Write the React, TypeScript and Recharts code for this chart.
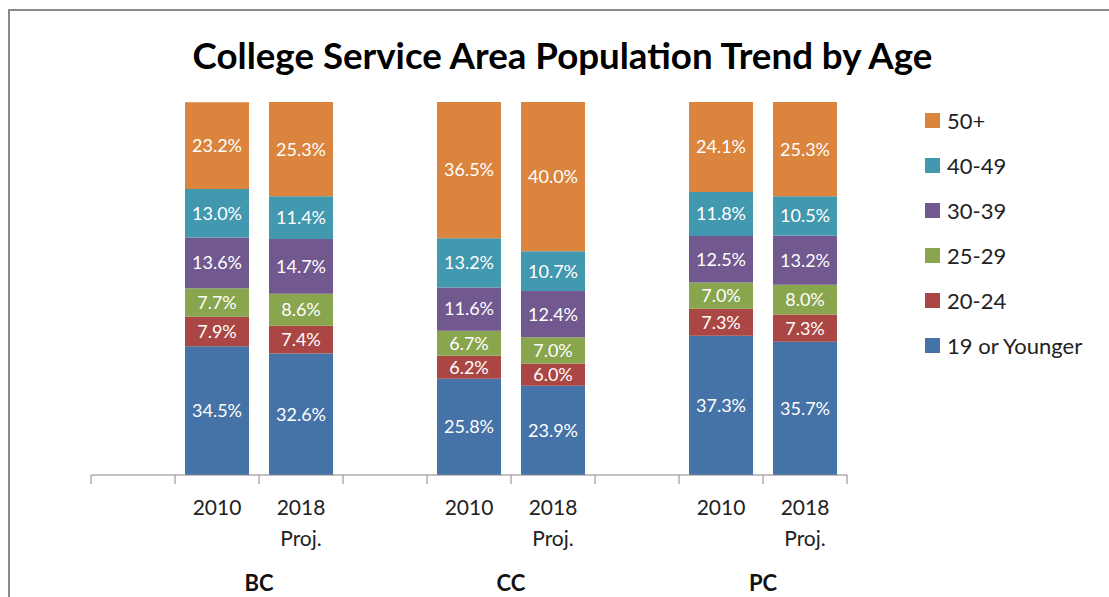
import { BarChart, Bar, XAxis, YAxis, Legend, LabelList } from 'recharts';

const groups = ['BC', 'CC', 'PC'];
const periods = ['2010', '2018 Proj.'];
const ageBands = ['19 or Younger', '20-24', '25-29', '30-39', '40-49', '50+'];
const bandColors = ['#4572A7', '#AA4643', '#89A54E', '#71588F', '#4198AF', '#DB843D'];

// order: BC 2010, BC 2018, CC 2010, CC 2018, PC 2010, PC 2018
const under19 = [34.5, 32.6, 25.8, 23.9, 37.3, 35.7];
const age20to24 = [7.9, 7.4, 6.2, 6.0, 7.3, 7.3];
const age25to29 = [7.7, 8.6, 6.7, 7.0, 7.0, 8.0];
const age30to39 = [13.6, 14.7, 11.6, 12.4, 12.5, 13.2];
const age40to49 = [13.0, 11.4, 13.2, 10.7, 11.8, 10.5];
const age50plus = [23.2, 25.3, 36.5, 40.0, 24.1, 25.3];

const seriesValues = [under19, age20to24, age25to29, age30to39, age40to49, age50plus];

// one empty slot before each college, like the original spacing
const data: Record<string, any>[] = [];
groups.forEach((g, gi) => {
  data.push({ key: `gap-${g}`, group: g, period: '' });
  periods.forEach((p, pi) => {
    const row: Record<string, any> = { key: `${g}|${p}`, group: g, period: p, last: pi === periods.length - 1 };
    seriesValues.forEach((vals, si) => {
      row[`s${si}`] = vals[gi * periods.length + pi];
    });
    data.push(row);
  });
});

const W = 1109;
const H = 597;
const margin = { top: 102, right: 262, bottom: 121, left: 91 };
const slotWidth = (W - margin.left - margin.right) / data.length;

const FONT = 'Lato, "Open Sans", sans-serif';
const GRAY = '#868686';

// category labels plus tick marks between the slots (Excel style)
const SlotTick = ({ x, y, index }: any) => {
  const row = data[index] || {};
  const half = slotWidth / 2;
  const lines: string[] = row.period ? String(row.period).split(' ') : [];
  return (
    <g>
      {index === 0 && <line x1={x - half} x2={x - half} y1={y} y2={y + 9} stroke={GRAY} />}
      <line x1={x + half} x2={x + half} y1={y} y2={y + 9} stroke={GRAY} />
      {lines.map((line, i) => (
        <text key={i} x={x} y={y + 40 + i * 31} textAnchor="middle" fontFamily={FONT} fontSize={21} fill="#222">
          {line}
        </text>
      ))}
      {row.last && (
        <text x={x - half} y={y + 116} textAnchor="middle" fontFamily={FONT} fontSize={22} fontWeight="bold" fill="#111">
          {row.group}
        </text>
      )}
    </g>
  );
};

const LegendBox = () => (
  <div style={{ fontFamily: FONT, fontSize: 22, color: '#222' }}>
    {ageBands
      .map((band, i) => ({ band, color: bandColors[i] }))
      .reverse()
      .map(({ band, color }) => (
        <div key={band} style={{ height: 45, display: 'flex', alignItems: 'center' }}>
          <span style={{ width: 15, height: 15, background: color, display: 'inline-block', marginRight: 7 }} />
          <span>{band}</span>
        </div>
      ))}
  </div>
);

const pct = (v: any) => (v === undefined || v === null ? '' : `${Number(v).toFixed(1)}%`);

export default function App() {
  return (
    <div style={{ position: 'fixed', left: 0, top: 0, width: W, height: H, overflow: 'hidden', background: '#fff' }}>
      <div style={{ position: 'absolute', left: 8, top: 9, width: 1200, height: 700, border: '2px solid #898989' }} />
      <div
        style={{
          position: 'absolute',
          left: 0,
          width: 1125,
          top: 37,
          textAlign: 'center',
          fontFamily: FONT,
          fontWeight: 'bold',
          fontSize: 36.7,
          lineHeight: 1,
          color: '#000',
        }}
      >
        College Service Area Population Trend by Age
      </div>
      <div style={{ position: 'absolute', left: 0, top: 0 }}>
        <BarChart width={W} height={H} data={data} margin={margin} barSize={64}>
          <XAxis
            dataKey="key"
            height={1}
            interval={0}
            axisLine={{ stroke: GRAY }}
            tickLine={false}
            tickSize={0}
            tickMargin={0}
            tick={SlotTick}
          />
          <YAxis hide domain={[0, 100]} />
          {ageBands.map((band, si) => (
            <Bar key={band} dataKey={`s${si}`} name={band} stackId="age" fill={bandColors[si]} isAnimationActive={false}>
              <LabelList dataKey={`s${si}`} position="center" formatter={pct} fill="#fff" fontFamily={FONT} fontSize={18} />
            </Bar>
          ))}
          <Legend layout="vertical" align="center" verticalAlign="middle" content={LegendBox} wrapperStyle={{ left: 925, top: 98, width: 184 }} />
        </BarChart>
      </div>
    </div>
  );
}
